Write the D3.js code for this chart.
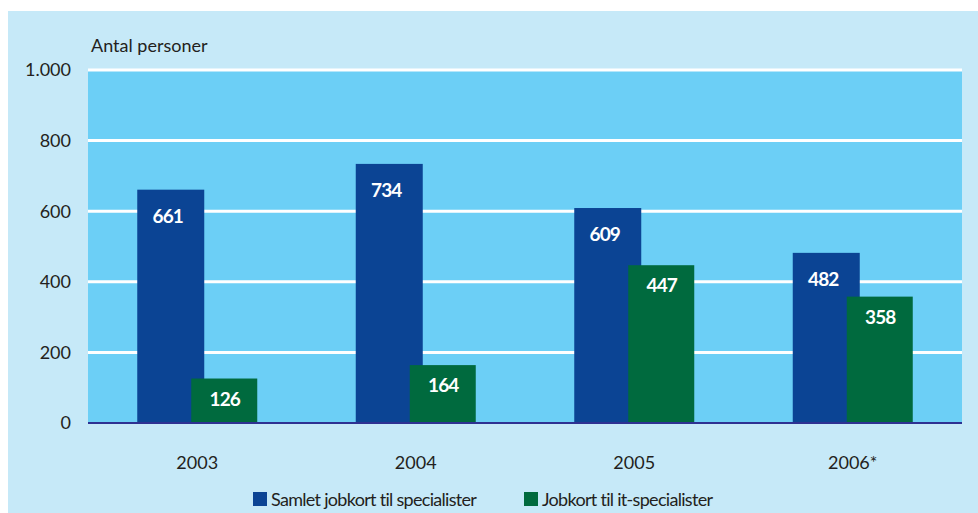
<!DOCTYPE html>
<html>
<head>
<meta charset="utf-8">
<script src="https://cdn.jsdelivr.net/npm/d3@7"></script>
<style>
  body { margin: 0; background: #fff; }
  text { font-family: Lato, "Open Sans", sans-serif; }
</style>
</head>
<body>
<script>
const canvWidth = 978, canvHeight = 513;
const margin = {top: 70, right: 16, bottom: 90, left: 88};
const width = canvWidth - margin.left - margin.right;
const height = 423 - margin.top;

const years = ["2003", "2004", "2005", "2006*"];
const samlet = [661, 734, 609, 482];
const itSpec = [126, 164, 447, 358];
const yTicks = [0, 200, 400, 600, 800, 1000];
const seriesNames = ["Samlet jobkort til specialister", "Jobkort til it-specialister"];
const colors = ["#0b4494", "#006a3e"];

const svg = d3.select("body").append("svg")
    .attr("width", canvWidth)
    .attr("height", canvHeight);

// outer background
svg.append("rect")
    .attr("x", 8).attr("y", 11)
    .attr("width", canvWidth - 8).attr("height", canvHeight - 11)
    .attr("fill", "#c6e9f8");

const chart = svg.append("g")
    .attr("transform", `translate(${margin.left},${margin.top})`);

const xScale = d3.scaleBand().domain(years).range([0, width]);
const yScale = d3.scaleLinear().domain([0, 1000]).range([height, 0]);

// plot area
chart.append("rect")
    .attr("x", 0).attr("y", yScale(1000))
    .attr("width", width).attr("height", height)
    .attr("fill", "#6ccff6");

// gridlines
chart.append("g")
    .selectAll("line")
    .data(yTicks.filter(d => d > 0))
    .enter().append("line")
    .attr("x1", 0).attr("x2", width)
    .attr("y1", d => yScale(d)).attr("y2", d => yScale(d))
    .attr("stroke", "#fff")
    .attr("stroke-width", 3);

// y tick labels
chart.append("g")
    .selectAll("text")
    .data(yTicks)
    .enter().append("text")
    .attr("x", -17)
    .attr("y", d => yScale(d))
    .attr("dy", "0.35em")
    .attr("text-anchor", "end")
    .attr("font-size", "18px")
    .attr("fill", "#231f20")
    .text(d => d3.format(",")(d).replace(",", "."));

chart.append("text")
    .attr("x", 3)
    .attr("y", -18)
    .attr("font-size", "18px")
    .attr("fill", "#231f20")
    .text("Antal personer");

const barW = 67;
const data = years.map((y, i) => ({year: y, a: samlet[i], b: itSpec[i]}));

const groups = chart.selectAll(".grp")
    .data(data)
    .enter().append("g")
    .attr("class", "grp")
    .attr("transform", d => `translate(${xScale(d.year) + xScale.bandwidth() / 2},0)`);

// blue bars
groups.append("rect")
    .attr("x", -60)
    .attr("y", d => yScale(d.a))
    .attr("width", barW)
    .attr("height", d => height - yScale(d.a))
    .attr("fill", colors[0]);

// green bars
groups.append("rect")
    .attr("x", -6)
    .attr("y", d => yScale(d.b))
    .attr("width", barW - 1)
    .attr("height", d => height - yScale(d.b))
    .attr("fill", colors[1]);

groups.append("text")
    .attr("x", -60 + barW / 2 - 3)
    .attr("y", d => yScale(d.a) + 33)
    .attr("text-anchor", "middle")
    .attr("font-size", "19px")
    .attr("font-weight", "bold")
    .attr("letter-spacing", "-0.8px")
    .attr("fill", "#fff")
    .text(d => d.a);

groups.append("text")
    .attr("x", -6 + barW / 2)
    .attr("y", d => yScale(d.b) + 27)
    .attr("text-anchor", "middle")
    .attr("font-size", "19px")
    .attr("font-weight", "bold")
    .attr("letter-spacing", "-0.8px")
    .attr("fill", "#fff")
    .text(d => d.b);

// zero axis
chart.append("line")
    .attr("x1", 0).attr("x2", width)
    .attr("y1", height).attr("y2", height)
    .attr("stroke", "#2e3192")
    .attr("stroke-width", 2);

// x labels
chart.append("g")
    .selectAll("text")
    .data(years)
    .enter().append("text")
    .attr("x", d => xScale(d) + xScale.bandwidth() / 2)
    .attr("y", height + 46)
    .attr("text-anchor", "middle")
    .attr("font-size", "18px")
    .attr("fill", "#231f20")
    .text(d => d);

// legend
const legendX = [253, 524];
const legend = svg.append("g");
legend.selectAll("rect")
    .data(seriesNames)
    .enter().append("rect")
    .attr("x", (d, i) => legendX[i])
    .attr("y", 492)
    .attr("width", 14).attr("height", 14)
    .attr("fill", (d, i) => colors[i]);
legend.selectAll("text")
    .data(seriesNames)
    .enter().append("text")
    .attr("x", (d, i) => legendX[i] + 18)
    .attr("y", 506)
    .attr("font-size", "18px")
    .attr("letter-spacing", "-0.7px")
    .attr("fill", "#231f20")
    .text(d => d);
</script>
</body>
</html>
